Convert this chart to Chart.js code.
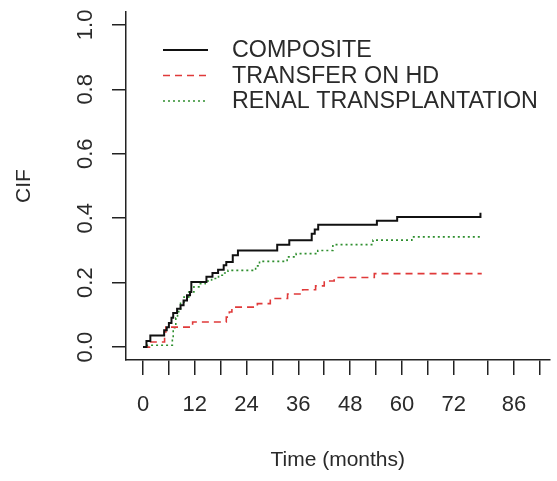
<!DOCTYPE html>
<html>
<head>
<meta charset="utf-8">
<script src="https://cdn.jsdelivr.net/npm/chart.js@4/dist/chart.umd.min.js"></script>
<style>
    html, body { margin: 0; padding: 0; background: #fff; }
    #wrap { width: 557px; height: 481px; position: relative; }
</style>
</head>
<body>
<div id="wrap"><canvas id="cifChart"></canvas></div>
<script>
// Cumulative incidence functions (time in months, CIF)
const compositeTime = [0, 0.8, 1.7, 4.9, 5.5, 6.0, 6.6, 7.0, 7.9, 8.7, 9.4, 10.2, 10.9, 11.2, 14.7, 16.1, 17.4, 18.7, 19.3, 20.8, 22.0, 31.1, 33.9, 39.1, 39.8, 40.6, 54.2, 58.9, 78.2];
const compositeCif = [0, 0.019, 0.036, 0.052, 0.062, 0.075, 0.091, 0.106, 0.119, 0.130, 0.145, 0.161, 0.171, 0.202, 0.218, 0.230, 0.240, 0.254, 0.264, 0.285, 0.300, 0.318, 0.332, 0.352, 0.365, 0.380, 0.392, 0.404, 0.417];

const hdTime = [0, 1.5, 5.0, 5.3, 11.5, 19.3, 20.0, 20.6, 26.5, 29.5, 33.5, 37.0, 40.0, 42.0, 44.3, 53.6, 78.5];
const hdCif = [0, 0.016, 0.047, 0.062, 0.078, 0.093, 0.109, 0.124, 0.135, 0.151, 0.165, 0.178, 0.190, 0.205, 0.216, 0.228, 0.228];

const txTime = [0, 1.0, 6.8, 7.0, 7.6, 8.0, 8.7, 9.5, 10.6, 11.8, 13.3, 14.4, 15.9, 17.5, 18.6, 19.7, 26.1, 27.0, 33.4, 35.5, 40.5, 44.0, 53.3, 62.3, 78.3];
const txCif = [0, 0.006, 0.030, 0.060, 0.090, 0.110, 0.136, 0.155, 0.171, 0.187, 0.197, 0.205, 0.213, 0.223, 0.230, 0.238, 0.252, 0.266, 0.280, 0.290, 0.300, 0.318, 0.332, 0.342, 0.342];

const seriesNames = ['COMPOSITE', 'TRANSFER ON HD', 'RENAL TRANSPLANTATION'];

// Axis ticks
const xTicks = [0, 6, 12, 18, 24, 30, 36, 42, 48, 54, 60, 66, 72, 80, 86, 92];
const xTickLabels = ['0', '', '12', '', '24', '', '36', '', '48', '', '60', '', '72', '', '86', ''];
const yTicks = [0, 0.2, 0.4, 0.6, 0.8, 1.0];
const yTickLabels = ['0.0', '0.2', '0.4', '0.6', '0.8', '1.0'];

const FONT = '"Liberation Sans", Arial, sans-serif';
const INK = '#2a2a2a';

function toPoints(times, values) {
    return times.map((t, i) => ({ x: t, y: values[i] }));
}

// Legend drawn inside the plot, R style
const insetLegend = {
    id: 'insetLegend',
    afterDatasetsDraw(chart) {
        const ctx = chart.ctx;
        ctx.save();
        ctx.font = '23.3px ' + FONT;
        ctx.textBaseline = 'middle';
        chart.data.datasets.forEach((ds, i) => {
            const y = 50 + i * 25.5;
            ctx.strokeStyle = ds.borderColor;
            ctx.lineWidth = ds.borderWidth;
            ctx.setLineDash(ds.borderDash || []);
            ctx.beginPath();
            ctx.moveTo(163, y);
            ctx.lineTo(208, y);
            ctx.stroke();
            ctx.setLineDash([]);
            ctx.fillStyle = INK;
            ctx.fillText(ds.label, 232, y + 1);
        });
        ctx.restore();
    }
};

// y tick labels run parallel to the axis
const rotatedYLabels = {
    id: 'rotatedYLabels',
    afterDraw(chart) {
        const ctx = chart.ctx;
        const yScale = chart.scales.y;
        ctx.save();
        ctx.font = '22px ' + FONT;
        ctx.fillStyle = INK;
        ctx.textAlign = 'center';
        ctx.textBaseline = 'middle';
        yTicks.forEach((v, i) => {
            const py = yScale.getPixelForValue(v);
            ctx.save();
            ctx.translate(86, py);
            ctx.rotate(-Math.PI / 2);
            ctx.fillText(yTickLabels[i], 0, 0);
            ctx.restore();
        });
        ctx.restore();
    }
};

new Chart(document.getElementById('cifChart'), {
    type: 'line',
    data: {
        datasets: [{
            label: seriesNames[0],
            data: toPoints(compositeTime, compositeCif),
            borderColor: '#111111',
            borderWidth: 2,
            stepped: 'before'
        }, {
            label: seriesNames[1],
            data: toPoints(hdTime, hdCif),
            borderColor: '#e03a3a',
            borderWidth: 1.6,
            borderDash: [7, 5],
            stepped: 'before'
        }, {
            label: seriesNames[2],
            data: toPoints(txTime, txCif),
            borderColor: '#2f8f2f',
            borderWidth: 1.6,
            borderDash: [2, 3],
            stepped: 'before'
        }]
    },
    options: {
        responsive: true,
        maintainAspectRatio: false,
        animation: false,
        layout: { padding: { top: 12, right: 0, left: 0, bottom: 0 } },
        elements: { point: { radius: 0 } },
        plugins: {
            legend: { display: false },
            tooltip: { enabled: false }
        },
        scales: {
            x: {
                type: 'linear',
                min: -3.94,
                max: 94.2,
                afterBuildTicks: (scale) => { scale.ticks = xTicks.map(v => ({ value: v })); },
                afterFit: (scale) => { scale.height = 121; },
                ticks: {
                    autoSkip: false,
                    maxRotation: 0,
                    padding: 17,
                    color: INK,
                    font: { family: FONT, size: 22 },
                    callback: (value, index) => xTickLabels[index]
                },
                grid: {
                    drawOnChartArea: false,
                    tickLength: 15,
                    color: '#222',
                    lineWidth: 1.5
                },
                border: { display: true, color: '#222', width: 1.5 },
                title: {
                    display: true,
                    text: 'Time (months)',
                    color: INK,
                    font: { family: FONT, size: 21 },
                    padding: { top: 0, bottom: 8 }
                }
            },
            y: {
                min: -0.04,
                max: 1.04,
                afterBuildTicks: (scale) => { scale.ticks = yTicks.map(v => ({ value: v })); },
                afterFit: (scale) => { scale.width = 126; },
                ticks: { display: false },
                grid: {
                    drawOnChartArea: false,
                    tickLength: 14,
                    color: '#222',
                    lineWidth: 1.5
                },
                border: { display: true, color: '#222', width: 1.5 },
                title: {
                    display: true,
                    text: 'CIF',
                    color: INK,
                    font: { family: FONT, size: 21 },
                    padding: { top: 12, bottom: 0 }
                }
            }
        }
    },
    plugins: [insetLegend, rotatedYLabels]
});
</script>
</body>
</html>
